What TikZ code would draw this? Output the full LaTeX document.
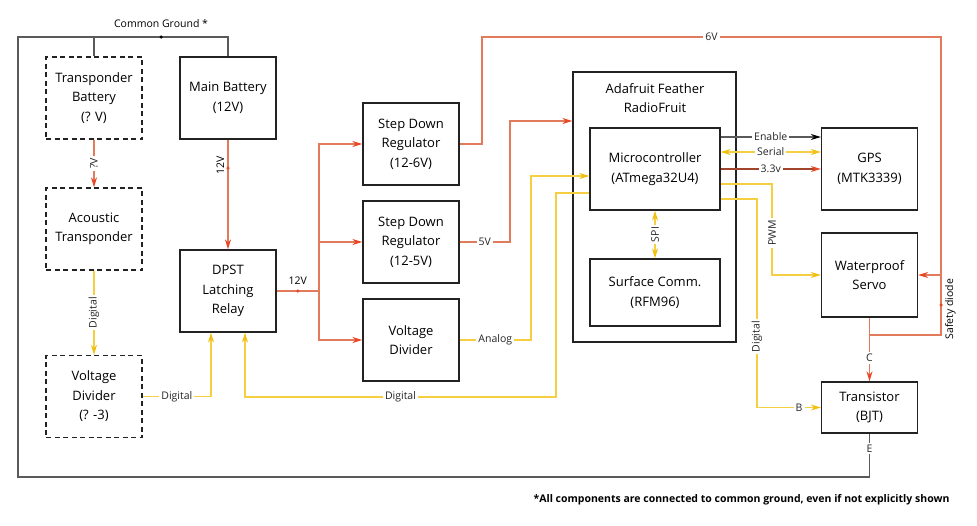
\documentclass[tikz,border=0pt]{standalone}
\usepackage{fontspec}
\setmainfont{Open Sans}
\usepackage{tikz}
\usetikzlibrary{arrows.meta,positioning,calc}

\definecolor{boxline}{RGB}{34,34,34}
\definecolor{wirered}{RGB}{226,122,92}
\definecolor{tipred}{RGB}{232,72,38}
\definecolor{wirebrown}{RGB}{160,68,44}
\definecolor{wireyellow}{RGB}{245,206,66}
\definecolor{tipyellow}{RGB}{242,190,16}
\definecolor{gndgray}{RGB}{90,90,90}

\begin{document}
\begin{tikzpicture}[x=1pt,y=-1pt,
  box/.style={draw=boxline,line width=1.3pt,align=center,inner sep=0pt,
    minimum width=96pt,minimum height=82pt,font=\fontsize{13}{19.5}\selectfont},
  dashed box/.style={box,dash pattern=on 5pt off 3.5pt},
  power line/.style={draw=wirered,line width=1.25pt},
  power/.style={power line,-{Stealth[length=10pt,width=6pt,color=tipred]}},
  signal line/.style={draw=wireyellow,line width=1.25pt},
  signal/.style={signal line,-{Stealth[length=10pt,width=6pt,color=tipyellow]}},
  signal both/.style={signal line,{Stealth[length=10pt,width=6pt,color=tipyellow]}-{Stealth[length=10pt,width=6pt,color=tipyellow]}},
  ground/.style={draw=gndgray,line width=1.3pt},
  wire label/.style={fill=white,inner sep=2pt,font=\fontsize{10.5}{12}\selectfont,text=black!85},
  dot/.style={circle,inner sep=0pt,minimum size=3.5pt}]
  \useasboundingbox (0,0) rectangle (977,525);

  % left column
  \node[dashed box] (tbat) at (94,98) {Transponder\\Battery\\(? V)};
  \node[dashed box] (acou) at (94,229) {Acoustic\\Transponder};
  \node[dashed box] (vdivt) at (94,396.5) {Voltage\\Divider\\(? -3)};
  \node[box] (mbat) at (228,98) {Main Battery\\(12V)};
  \node[box] (relay) at (228,291) {DPST\\Latching\\Relay};

  % regulators
  \node[box] (sdsix) at (411,144) {Step Down\\Regulator\\(12-6V)};
  \node[box] (sdfive) at (411,242) {Step Down\\Regulator\\(12-5V)};
  \node[box] (vdiv) at (411,340) {Voltage\\Divider};

  % feather board
  \node[box,minimum width=163pt,minimum height=270pt] (feather) at (654.5,207) {};
  \node[align=center,font=\fontsize{13}{19.5}\selectfont] (title) at (655,98) {Adafruit Feather\\RadioFruit};
  \node[box,minimum width=130pt] (mcu) at (655,169) {Microcontroller\\(ATmega32U4)};
  \node[box,minimum width=130pt,minimum height=67pt] (rfm) at (655,292.5) {Surface Comm.\\(RFM96)};

  % right column
  \node[box] (gps) at (869.5,169) {GPS\\(MTK3339)};
  \node[box,minimum height=84pt] (servo) at (869.5,275) {Waterproof\\Servo};
  \node[box,minimum height=51pt] (bjt) at (869.5,407.5) {Transistor\\(BJT)};

  % common ground
  \coordinate (gnd) at (161,37);
  \coordinate (gleft) at (18,37);
  \coordinate (gbot) at (18,477);
  \node[font=\fontsize{10.5}{12}\selectfont] (gndtext) at (161,24) {Common Ground *};
  \draw[ground] (tbat.north) |- (gnd) -| (mbat.north);
  \draw[ground] (tbat.north |- gnd) -- (gleft) -- (gbot) -| node[wire label,pos=0.83] {E} (bjt.south);
  \node[dot,fill=black] at (gnd) {};

  % power
  \draw[power] (tbat) -- node[wire label,rotate=90] {?V} (acou);
  \draw[power] (mbat) -- node[dot,fill=tipred,pos=0.26] {}
    node[pos=0.26,rotate=90,above=3pt,font=\fontsize{10.5}{12}\selectfont] {12V} (relay);
  \coordinate (bus) at (319,291);
  \draw[power line] (relay.east) -- node[dot,fill=tipred] {}
    node[above=3pt,font=\fontsize{10.5}{12}\selectfont] {12V} (bus);
  \draw[power] (bus) |- (sdsix);
  \draw[power] (bus) |- (sdfive);
  \draw[power] (bus) |- (vdiv);
  \coordinate (sixtop) at (482,37);
  \coordinate (sixright) at (941,37);
  \draw[power] (sdsix.east) -| (sixtop) -- node[wire label] {6V} (sixright) |- (servo.east);
  \draw[power] (sdfive.east) -- node[wire label] {5V} (510,242) |- (feather.west |- 0,121);
  \coordinate (cnode) at (869.5,335);
  \draw[power line] (servo.south) -- (cnode) -| node[dot,fill=tipred,pos=0.75] {}
    node[pos=0.75,rotate=90,below=4pt,font=\fontsize{10.5}{12}\selectfont] {Safety diode} (sixright |- servo.east);
  \draw[power] (cnode) -- node[wire label] {C} (bjt.north);
  \draw[draw=wirebrown,line width=1.25pt,-{Stealth[length=10pt,width=6pt,color=tipred]}]
    (mcu.east) -- node[wire label] {3.3v} (gps.west);

  % signals
  \draw[signal] (acou) -- node[wire label,rotate=90] {Digital} (vdivt);
  \draw[signal] (vdivt.east) -- node[wire label] {Digital} (211,396.5) -- ([xshift=-17pt]relay.south);
  \draw[signal] (mcu.west |- 0,193) -- (556,193) -- (556,397) -- node[wire label] {Digital} (245,397)
    -- ([xshift=17pt]relay.south);
  \draw[signal] (vdiv.east) -- node[wire label] {Analog} (531,340) |- (mcu.west |- 0,176);
  \draw[signal both] (mcu) -- node[wire label,rotate=90] {SPI} (rfm);
  \draw[signal both] (mcu.east |- 0,152) -- node[wire label] {Serial} (gps.west |- 0,152);
  \draw[draw=gndgray,line width=1.25pt,-{Stealth[length=10pt,width=6pt,color=black]}]
    (mcu.east |- 0,137) -- node[wire label] {Enable} (gps.west |- 0,137);
  \draw[signal] (mcu.east |- 0,184) -- (772,184) |- node[wire label,rotate=90,pos=0.27] {PWM} (servo.west);
  \draw[signal] (mcu.east |- 0,199) -- (757,199) |- node[wire label,rotate=90,pos=0.33] {Digital}
    node[wire label,pos=0.83] {B} (bjt.west);

  \node[anchor=east,font=\bfseries\fontsize{10.5}{12}\selectfont] (note) at (953,500)
    {*All components are connected to common ground, even if not explicitly shown};
\end{tikzpicture}
\end{document}
